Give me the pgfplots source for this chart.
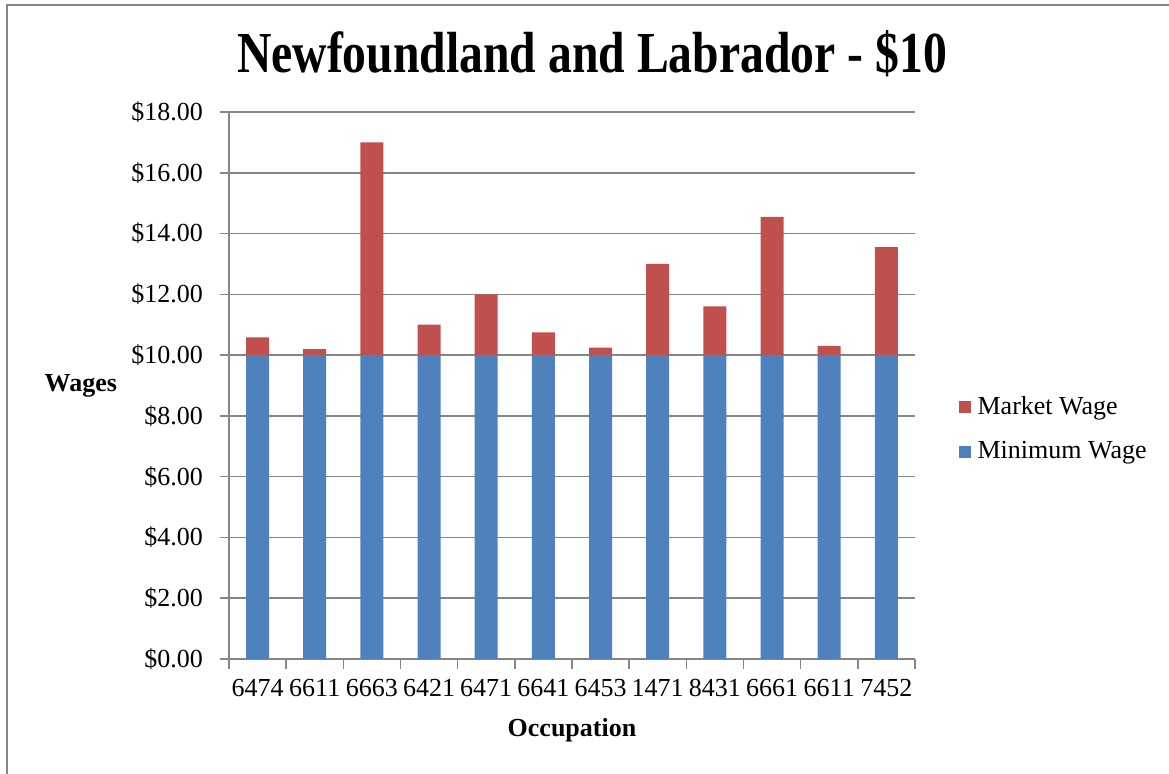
\documentclass[border=0pt]{standalone}
\usepackage{fontspec}
\setmainfont{Liberation Serif}
\usepackage{graphicx}
\usepackage{pgfplots}
\pgfplotsset{compat=1.18}
\definecolor{minblue}{HTML}{4F81BD}
\definecolor{mktred}{HTML}{C0504D}
\definecolor{gridgray}{HTML}{868686}
\begin{document}
\begin{tikzpicture}[x=1pt,y=1pt]
\useasboundingbox (0,0) rectangle (584.5,387);
\draw[gridgray, line width=0.75pt] (3.5,0) -- (3.5,384.5) -- (584.5,384.5);
\node[font=\fontsize{29}{32}\selectfont\bfseries] at (296,360) {\scalebox{0.822}[1]{Newfoundland and Labrador - \$10}};
\begin{axis}[
  at={(114.5pt,57.5pt)}, anchor=south west, scale only axis,
  width=343pt, height=273.5pt,
  ybar stacked, bar width=11.5pt,
  xmin=-0.5, xmax=11.5, ymin=0, ymax=18,
  ytick={0,2,...,18},
  xtick={0,...,11},
  xticklabels={6474,6611,6663,6421,6471,6641,6453,1471,8431,6661,6611,7452},
  minor xtick={-0.5,0.5,...,11.5},
  tick align=outside,
  major x tick style={draw=none},
  minor tick length=5pt,
  major tick length=4.5pt,
  tick style={gridgray, line width=0.75pt},
  axis x line*=bottom, axis y line*=left,
  axis line style={gridgray, line width=0.75pt},
  ymajorgrids,
  major grid style={gridgray, line width=0.75pt},
  /pgf/number format/assume math mode=true,
  yticklabel={\$\pgfmathprintnumber[fixed,fixed zerofill,precision=2]{\tick}},
  ticklabel style={font=\fontsize{13}{15.6}\selectfont},
  yticklabel style={xshift=-5pt},
  xticklabel style={yshift=-2pt},
  xlabel={Occupation},
  ylabel={Wages},
  label style={font=\fontsize{13}{15.6}\selectfont\bfseries},
  xlabel style={at={(axis description cs:0.5,-0.13)}, anchor=center},
  ylabel style={rotate=-90, at={(axis description cs:-0.216,0.5)}, anchor=center},
  reverse legend,
  legend cell align=left,
  legend style={at={(axis description cs:1.063,0.42)}, anchor=west, draw=none,
    font=\fontsize{13}{15.6}\selectfont, row sep=8pt, inner sep=0pt,
    nodes={inner xsep=3.5pt}},
  legend image code/.code={\draw[#1,draw=none] (0pt,-3pt) rectangle (6pt,3pt);},
]
\addplot[fill=minblue, draw=none] coordinates {(0,10) (1,10) (2,10) (3,10) (4,10) (5,10) (6,10) (7,10) (8,10) (9,10) (10,10) (11,10)};
\addplot[fill=mktred, draw=none] coordinates {(0,0.58) (1,0.2) (2,7.0) (3,1.0) (4,2.0) (5,0.75) (6,0.25) (7,3.0) (8,1.6) (9,4.55) (10,0.3) (11,3.55)};
\legend{Minimum Wage, Market Wage}
\end{axis}
\end{tikzpicture}
\end{document}
